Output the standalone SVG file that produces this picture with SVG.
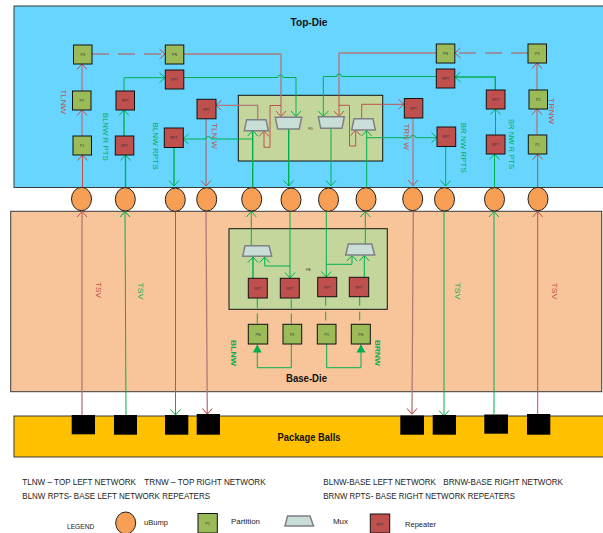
<svg xmlns="http://www.w3.org/2000/svg" width="603" height="533" viewBox="0 0 603 533">
<style>
text{font-family:"Liberation Sans",Arial,sans-serif}
.die{stroke:#3a3a3a;stroke-width:1}
.fb{fill:#c4d69c;stroke:#111;stroke-width:1}
.b{fill:#f79f55;stroke:#222;stroke-width:1}
.p{fill:#9bbb59;stroke:#111;stroke-width:1}
.r{fill:#c0504d;stroke:#111;stroke-width:1}
.m{fill:#c8ded6;stroke:#7f7f86;stroke-width:1.5}
.k{fill:#000}
.t{font-size:3.5px;fill:#333;text-anchor:middle}
.lbl{font-size:8px;text-anchor:middle}
.lr{fill:#c0504d}
.lg{fill:#00b050}
.h{font-size:11px;font-weight:bold;text-anchor:middle;fill:#111}
.leg{font-size:8.5px;fill:#222}
.cr,.cg,.crg{fill:none}
.cr{stroke:#c0504d;stroke-width:1}
.crg{stroke:#b5767a;stroke-width:1.3}
.cg{stroke:#00b050;stroke-width:1}
.cg2{fill:none;stroke:#00b050;stroke-width:1.4}
.ar{marker-end:url(#ar)}
.ag{marker-end:url(#ag)}
.af{marker-end:url(#af)}
.dr{stroke-dasharray:17 9}
</style>
<defs>
<marker id="ar" markerUnits="userSpaceOnUse" markerWidth="8" markerHeight="12" refX="6.5" refY="6" orient="auto"><path d="M1,1 L6.5,6 L1,11" fill="none" stroke="#c0504d" stroke-width="1"/></marker>
<marker id="ag" markerUnits="userSpaceOnUse" markerWidth="8" markerHeight="12" refX="6.5" refY="6" orient="auto"><path d="M1,1 L6.5,6 L1,11" fill="none" stroke="#00b050" stroke-width="1"/></marker>
<marker id="af" markerUnits="userSpaceOnUse" markerWidth="9" markerHeight="10" refX="8" refY="5" orient="auto"><path d="M0,0.5 L8,5 L0,9.5 Z" fill="#00b050"/></marker>
</defs>

<rect id="top-die" class="die" x="14" y="6" width="595" height="181.5" fill="#68d5ff"/>
<rect id="base-die" class="die" x="10.7" y="211.3" width="591" height="180.4" fill="#f8c59b"/>
<rect id="package" class="die" x="14" y="416" width="595" height="41" fill="#ffc000"/>
<rect id="fd" class="fb" x="238.3" y="95.3" width="144.4" height="65.7"/>
<rect id="fb" class="fb" x="229" y="228.7" width="158.3" height="80.6"/>

<g id="connectors">
<path class="cr ar" d="M82.5,187 V155"/>
<path class="crg ar" d="M82,136 V110"/>
<path class="crg ar" d="M82,91 V64"/>
<path class="cr ar dr" d="M92,54 H165"/>
<path class="crg" d="M184,54 H240"/>
<path class="cr" d="M240,54 H281"/>
<path class="crg ar" d="M281,54 V116.5"/>
<path class="cr ar" d="M281,105.5 H270 V147.3 H264 V131"/>
<path class="cg ag" d="M184,77.5 H278 a2.5,2.5 0 0 1 5,0 H296 V116.5"/>
<path class="cg2 ag" d="M125.5,187 V155"/>
<path class="cg2 ag" d="M124,136 V110"/>
<path class="cg ag" d="M124,91 V77.7 H165"/>
<path class="cg2 ag" d="M174,147 V186"/>
<path class="cr ar" d="M206,119 V186"/>
<path class="crg ar" d="M257.7,119.7 V105.3 H216"/>
<path class="cg ag" d="M252.7,139 H211 a2.5,2.5 0 0 0 -5,0 H183"/>
<path class="cg2 ag" d="M252.7,187 V130.5"/>
<path class="cg2 ag" d="M288.7,129 V186"/>
<path class="cg ag" d="M331,128 V186"/>
<path class="cg ag" d="M366.7,187 V130.5"/>
<path class="cg ag" d="M366.7,137.7 H410.5 a2.5,2.5 0 0 1 5,0 H437"/>
<path class="crg" d="M436,53 H339"/>
<path class="crg" d="M339,53 V90"/>
<path class="cr ar" d="M339,90 V116.5"/>
<path class="cr ar" d="M338.5,105.3 H349.5 V146 H355.7 V130"/>
<path class="cg ag" d="M436,76.5 H341.5 a2.5,2.5 0 0 0 -5,0 H323.3 V116.5"/>
<path class="cr ar" d="M361.7,118.7 V104.3 H404"/>
<path class="crg ar" d="M413,118 V185.5"/>
<path class="cg ag" d="M445.7,146 V186"/>
<path class="cr ar dr" d="M528,53 H455"/>
<path class="cg ag" d="M494.5,187 V154"/>
<path class="cg ag" d="M495.5,135 V109"/>
<path class="cg2 ag" d="M495.3,90 V77 H455"/>
<path class="cr ar" d="M537.7,187 V154"/>
<path class="crg ar" d="M537,135 V109"/>
<path class="crg ar" d="M537,90 V63"/>

<path class="crg ar" d="M82,415 V211.5"/>
<path class="cg ag" d="M126,415 L125,211.5"/>
<path class="cg ag" d="M175.5,211 V415"/>
<path class="crg ar" d="M206,211 L207.3,414"/>
<path class="crg ar" d="M413.3,211 L412,414"/>
<path class="cg ag" d="M444,211 V416"/>
<path class="cg ag" d="M494,414 V211.5"/>
<path class="cr ar" d="M537.7,416 V211.5"/>

<path class="cg ag" d="M251.3,245.7 V211.5"/>
<path class="cg ag" d="M365.3,244 V211.5"/>
<path class="cg ag" d="M290,211 V278"/>
<path class="cg ag" d="M326.3,211 V277"/>
<path class="cg2 ag" d="M253,278.3 V257"/>
<path class="cg ag" d="M290,266 H264.7 V257"/>
<path class="cg ag" d="M326.3,264.3 H352 V255.5"/>
<path class="cg ag" d="M364.3,277.3 V255.5"/>
<path class="cg" d="M257.3,298.3 V308.3 M257.3,313.3 V323.5"/>
<path class="cg" d="M291.3,299.3 V308.3 M291.3,313.3 V323.5"/>
<path class="cg" d="M325.7,296.7 V305.7 M325.7,311.7 V320.5"/>
<path class="cg" d="M359.7,296.7 V305.7 M359.7,311.7 V320.5"/>
<path class="cg af" d="M291.3,344 V367.7 H257.3 V344.5"/>
<path class="cg af" d="M326.7,344 V367.7 H361 V344.5"/>
</g>

<g id="bump-1"><ellipse class="b" cx="81.5" cy="199" rx="10" ry="11.7"/></g>
<g id="bump-2"><ellipse class="b" cx="125.3" cy="199.3" rx="10" ry="11.7"/></g>
<g id="bump-3"><ellipse class="b" cx="175.3" cy="199.7" rx="10" ry="11.7"/></g>
<g id="bump-4"><ellipse class="b" cx="206.7" cy="199.3" rx="10" ry="11.7"/></g>
<g id="bump-5"><ellipse class="b" cx="251.7" cy="199.3" rx="10" ry="11.7"/></g>
<g id="bump-6"><ellipse class="b" cx="291" cy="199.7" rx="10" ry="11.7"/></g>
<g id="bump-7"><ellipse class="b" cx="328.5" cy="199.7" rx="10" ry="11.7"/></g>
<g id="bump-8"><ellipse class="b" cx="366" cy="199.3" rx="10" ry="11.7"/></g>
<g id="bump-9"><ellipse class="b" cx="412.7" cy="199" rx="10" ry="11.7"/></g>
<g id="bump-10"><ellipse class="b" cx="444.5" cy="199.3" rx="10" ry="11.7"/></g>
<g id="bump-11"><ellipse class="b" cx="494.5" cy="199.3" rx="10" ry="11.7"/></g>
<g id="bump-12"><ellipse class="b" cx="538" cy="199" rx="10" ry="11.7"/></g>

<g id="tl-p3"><rect class="p" x="73.5" y="45" width="18.5" height="19"/><text class="t" x="82.7" y="56">P3</text></g>
<g id="tl-p2"><rect class="p" x="72.5" y="91" width="18.5" height="19"/><text class="t" x="81.7" y="102">P2</text></g>
<g id="tl-p1"><rect class="p" x="73" y="136" width="18.5" height="19"/><text class="t" x="82.2" y="147">P1</text></g>
<g id="tl-pn"><rect class="p" x="165.3" y="45" width="18.5" height="19"/><text class="t" x="174.5" y="56">PN</text></g>
<g id="tl-rpt-a"><rect class="r" x="165.3" y="70" width="18.5" height="19"/><text class="t" x="174.5" y="81">RPT</text></g>
<g id="tl-rpt-b"><rect class="r" x="116" y="91" width="18.5" height="19"/><text class="t" x="125.2" y="102">RPT</text></g>
<g id="tl-rpt-c"><rect class="r" x="115.3" y="136" width="18.5" height="19"/><text class="t" x="124.5" y="147">RPT</text></g>
<g id="tl-rpt-d"><rect class="r" x="197" y="99.3" width="19" height="19.5"/><text class="t" x="206.5" y="110.5">RPT</text></g>
<g id="tl-rpt-e"><rect class="r" x="164.3" y="128" width="19" height="19.5"/><text class="t" x="173.8" y="139">RPT</text></g>
<g id="tr-pn"><rect class="p" x="436.3" y="44" width="18.5" height="19"/><text class="t" x="445.5" y="55">PN</text></g>
<g id="tr-rpt-a"><rect class="r" x="436.3" y="69" width="18.5" height="19"/><text class="t" x="445.5" y="80">RPT</text></g>
<g id="tr-p3"><rect class="p" x="528" y="44" width="18.5" height="19"/><text class="t" x="537.2" y="55">P3</text></g>
<g id="tr-p2"><rect class="p" x="529" y="90" width="18.5" height="19"/><text class="t" x="538.2" y="101">P2</text></g>
<g id="tr-p1"><rect class="p" x="528.3" y="135" width="18.5" height="19"/><text class="t" x="537.5" y="146">P1</text></g>
<g id="tr-rpt-b"><rect class="r" x="486.3" y="90" width="18.7" height="19"/><text class="t" x="495.6" y="101">RPT</text></g>
<g id="tr-rpt-c"><rect class="r" x="486.3" y="135" width="18.7" height="19"/><text class="t" x="495.6" y="146">RPT</text></g>
<g id="tr-rpt-d"><rect class="r" x="404.3" y="98.5" width="18.5" height="19.5"/><text class="t" x="413.5" y="109.5">RPT</text></g>
<g id="tr-rpt-e"><rect class="r" x="437" y="127" width="18.7" height="19.5"/><text class="t" x="446.3" y="138">RPT</text></g>

<g id="mux-fd-1"><path class="m" d="M246.7,119.7 H266 L268.3,130.7 H244.3 Z"/></g>
<g id="mux-fd-2"><path class="m" d="M275.3,117.3 H301.7 L299.3,129 H277.7 Z"/></g>
<g id="mux-fd-3"><path class="m" d="M318.3,116.7 H344.3 L342,128.3 H320.7 Z"/></g>
<g id="mux-fd-4"><path class="m" d="M354,118.7 H373 L375.3,130 H351.7 Z"/></g>
<text class="t" x="310.7" y="129.5">FD</text>

<g id="mux-fb-1"><path class="m" d="M245,245.7 H269 L271.7,256.3 H242.7 Z"/></g>
<g id="mux-fb-2"><path class="m" d="M348.3,244 H371.7 L374.7,255 H345.7 Z"/></g>
<text class="t" x="308.3" y="270.5">FB</text>

<g id="b-rpt-1"><rect class="r" x="248.3" y="278.3" width="19" height="19.7"/><text class="t" x="257.8" y="289.5">RPT</text></g>
<g id="b-rpt-2"><rect class="r" x="280.3" y="278.3" width="19" height="19.7"/><text class="t" x="289.8" y="289.5">RPT</text></g>
<g id="b-rpt-3"><rect class="r" x="317.7" y="277.3" width="19" height="19.4"/><text class="t" x="327.2" y="288.5">RPT</text></g>
<g id="b-rpt-4"><rect class="r" x="349.3" y="277.3" width="19.4" height="19.4"/><text class="t" x="359" y="288.5">RPT</text></g>
<g id="b-pn-1"><rect class="p" x="248.3" y="324.3" width="19.4" height="19.7"/><text class="t" x="258" y="335.5">PN</text></g>
<g id="b-p1-1"><rect class="p" x="283" y="324.3" width="18.7" height="19.7"/><text class="t" x="292.3" y="335.5">P1</text></g>
<g id="b-p1-2"><rect class="p" x="317.3" y="324.3" width="18.7" height="19.7"/><text class="t" x="326.7" y="335.5">P1</text></g>
<g id="b-pn-2"><rect class="p" x="351.3" y="324.3" width="19" height="19.7"/><text class="t" x="360.8" y="335.5">PN</text></g>

<g id="ball-1"><rect class="k" x="71.7" y="415" width="23.3" height="19.3"/></g>
<g id="ball-2"><rect class="k" x="114" y="415" width="23" height="19.7"/></g>
<g id="ball-3"><rect class="k" x="165" y="415" width="23.3" height="19.7"/></g>
<g id="ball-4"><rect class="k" x="196.7" y="414" width="23.3" height="20.7"/></g>
<g id="ball-5"><rect class="k" x="400.3" y="415.5" width="23.7" height="19.2"/></g>
<g id="ball-6"><rect class="k" x="432.7" y="415" width="23.3" height="19.7"/></g>
<g id="ball-7"><rect class="k" x="484.3" y="414.5" width="23.7" height="19.2"/></g>
<g id="ball-8"><rect class="k" x="527" y="414" width="23.3" height="20.7"/></g>

<g id="labels">
<text class="h" x="309" y="26" textLength="37" lengthAdjust="spacingAndGlyphs">Top-Die</text>
<text class="h" x="306.5" y="382" textLength="41" lengthAdjust="spacingAndGlyphs">Base-Die</text>
<text class="h" x="309" y="441" textLength="63" lengthAdjust="spacingAndGlyphs">Package Balls</text>
<text class="lbl lr" transform="translate(61,101.7) rotate(90)" textLength="25" lengthAdjust="spacingAndGlyphs">TLNW</text>
<text class="lbl lg" transform="translate(103.3,136.7) rotate(90)" textLength="48" lengthAdjust="spacingAndGlyphs">BLNW R PTS</text>
<text class="lbl lg" transform="translate(153,146) rotate(90)" textLength="47" lengthAdjust="spacingAndGlyphs">BLNW RPTS</text>
<text class="lbl lr" transform="translate(212.3,136) rotate(90)" textLength="26" lengthAdjust="spacingAndGlyphs">TLN W</text>
<text class="lbl lr" transform="translate(404.3,136.7) rotate(90)" textLength="26" lengthAdjust="spacingAndGlyphs">TRN W</text>
<text class="lbl lg" transform="translate(461.3,147.7) rotate(90)" textLength="50" lengthAdjust="spacingAndGlyphs">BR NW RPTS</text>
<text class="lbl lg" transform="translate(509.3,144) rotate(90)" textLength="50" lengthAdjust="spacingAndGlyphs">BR NW R PTS</text>
<text class="lbl lr" transform="translate(549.3,111) rotate(90)" textLength="26" lengthAdjust="spacingAndGlyphs">TRNW</text>
<text class="lbl lr" style="font-size:7px" transform="translate(95.7,290) rotate(90)" textLength="16" lengthAdjust="spacingAndGlyphs">TSV</text>
<text class="lbl lg" style="font-size:7px" transform="translate(137.7,291) rotate(90)" textLength="17" lengthAdjust="spacingAndGlyphs">TSV</text>
<text class="lbl lg" style="font-size:7px" transform="translate(455.3,291) rotate(90)" textLength="17" lengthAdjust="spacingAndGlyphs">TSV</text>
<text class="lbl lr" style="font-size:7px" transform="translate(551.7,291) rotate(90)" textLength="17" lengthAdjust="spacingAndGlyphs">TSV</text>
<text class="lbl lg" style="font-size:7px;font-weight:bold" transform="translate(231,353) rotate(90)" textLength="26" lengthAdjust="spacingAndGlyphs">BLNW</text>
<text class="lbl lg" style="font-size:7px;font-weight:bold" transform="translate(375.3,353) rotate(90)" textLength="26" lengthAdjust="spacingAndGlyphs">BRNW</text>
</g>

<g id="notes">
<text class="leg" x="22.3" y="484.7" textLength="113.7" lengthAdjust="spacingAndGlyphs">TLNW – TOP LEFT NETWORK</text>
<text class="leg" x="144.3" y="484.7" textLength="121.4" lengthAdjust="spacingAndGlyphs">TRNW – TOP RIGHT NETWORK</text>
<text class="leg" x="22.3" y="498.7" textLength="187.7" lengthAdjust="spacingAndGlyphs">BLNW RPTS- BASE  LEFT NETWORK  REPEATERS</text>
<text class="leg" x="323.3" y="484.7" textLength="112.7" lengthAdjust="spacingAndGlyphs">BLNW-BASE LEFT NETWORK</text>
<text class="leg" x="443.3" y="484.7" textLength="119.7" lengthAdjust="spacingAndGlyphs">BRNW-BASE RIGHT NETWORK</text>
<text class="leg" x="323.3" y="498.7" textLength="191.7" lengthAdjust="spacingAndGlyphs">BRNW RPTS- BASE RIGHT NETWORK REPEATERS</text>
</g>

<g id="legend">
<text class="leg" style="font-size:8px" x="67" y="529" textLength="27.3" lengthAdjust="spacingAndGlyphs">LEGEND</text>
<ellipse class="b" cx="125.7" cy="523" rx="10" ry="11"/>
<text class="leg" style="font-size:8px" x="144" y="524.5" textLength="24" lengthAdjust="spacingAndGlyphs">uBump</text>
<rect class="p" x="198" y="513.5" width="19.3" height="19.5"/>
<text class="t" x="207.7" y="525">P1</text>
<text class="leg" style="font-size:8px" x="231" y="524" textLength="29" lengthAdjust="spacingAndGlyphs">Partition</text>
<path class="m" d="M287.5,516 H310 L313.5,526 H285 Z"/>
<text class="leg" style="font-size:8px" x="333" y="524" textLength="15" lengthAdjust="spacingAndGlyphs">Mux</text>
<rect class="r" x="370.3" y="514" width="19.4" height="19"/>
<text class="t" x="380" y="525.5">RPT</text>
<text class="leg" style="font-size:8px" x="405" y="527" textLength="31" lengthAdjust="spacingAndGlyphs">Repeater</text>
</g>
</svg>
